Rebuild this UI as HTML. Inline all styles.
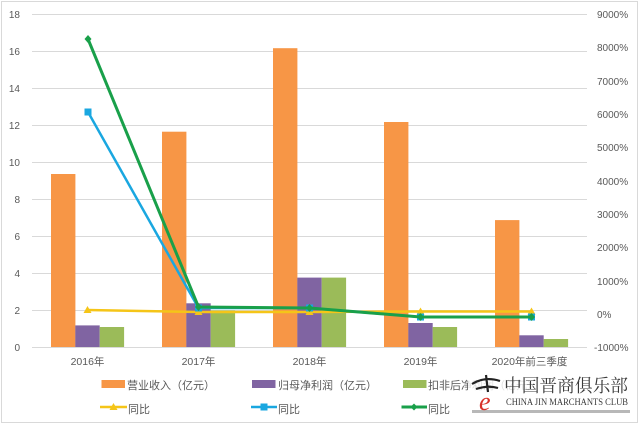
<!DOCTYPE html>
<html><head><meta charset="utf-8"><style>
html,body{margin:0;padding:0;background:#fff;}
svg{display:block;}
text{font-family:"Liberation Sans","Noto Sans CJK SC",sans-serif;fill:#595959;}
.ser{font-family:"Liberation Serif","Noto Serif CJK SC",serif;}
</style></head><body>
<svg width="640" height="425" viewBox="0 0 640 425" xmlns="http://www.w3.org/2000/svg">
<rect x="0" y="0" width="640" height="425" fill="#fff"/>
<rect x="1.5" y="1.5" width="636" height="421" fill="none" stroke="#d9d9d9" stroke-width="1"/>
<!-- gridlines -->
<g stroke="#d9d9d9" stroke-width="1">
<line x1="32" y1="14.5" x2="587" y2="14.5"/>
<line x1="32" y1="51.5" x2="587" y2="51.5"/>
<line x1="32" y1="88.5" x2="587" y2="88.5"/>
<line x1="32" y1="125.5" x2="587" y2="125.5"/>
<line x1="32" y1="162.5" x2="587" y2="162.5"/>
<line x1="32" y1="199.5" x2="587" y2="199.5"/>
<line x1="32" y1="236.5" x2="587" y2="236.5"/>
<line x1="32" y1="273.5" x2="587" y2="273.5"/>
<line x1="32" y1="310.5" x2="587" y2="310.5"/>
<line x1="32" y1="347.5" x2="587" y2="347.5"/>
</g>
<!-- left ticks -->
<g font-size="10" text-anchor="end">
<text x="20" y="18">18</text>
<text x="20" y="55">16</text>
<text x="20" y="92">14</text>
<text x="20" y="129">12</text>
<text x="20" y="166">10</text>
<text x="20" y="203">8</text>
<text x="20" y="240">6</text>
<text x="20" y="277">4</text>
<text x="20" y="314">2</text>
<text x="20" y="351">0</text>
</g>
<!-- right ticks -->
<g font-size="10">
<text x="597" y="18">9000%</text>
<text x="597" y="51">8000%</text>
<text x="597" y="85">7000%</text>
<text x="597" y="118">6000%</text>
<text x="597" y="151">5000%</text>
<text x="597" y="185">4000%</text>
<text x="597" y="218">3000%</text>
<text x="597" y="251">2000%</text>
<text x="597" y="285">1000%</text>
<text x="597" y="318">0%</text>
<text x="594" y="351">-1000%</text>
</g>
<!-- bars -->
<g fill="#F79646">
<rect x="51" y="174" width="24.4" height="173"/>
<rect x="162" y="131.7" width="24.4" height="215.3"/>
<rect x="273" y="48.2" width="24.4" height="298.8"/>
<rect x="384" y="122" width="24.4" height="225"/>
<rect x="495" y="220.1" width="24.4" height="126.9"/>
</g>
<g fill="#8064A2">
<rect x="75.3" y="325.4" width="24.4" height="21.6"/>
<rect x="186.3" y="303.3" width="24.4" height="43.7"/>
<rect x="297.3" y="277.6" width="24.4" height="69.4"/>
<rect x="408.3" y="323" width="24.4" height="24"/>
<rect x="519.3" y="335.3" width="24.4" height="11.7"/>
</g>
<g fill="#9BBB59">
<rect x="99.7" y="327" width="24.4" height="20"/>
<rect x="210.7" y="310.4" width="24.4" height="36.6"/>
<rect x="321.7" y="277.6" width="24.4" height="69.4"/>
<rect x="432.7" y="327" width="24.4" height="20"/>
<rect x="543.7" y="339" width="24.4" height="8"/>
</g>
<!-- x labels -->
<g font-size="10.5" text-anchor="middle">
<text x="87.5" y="365">2016年</text>
<text x="198.5" y="365">2017年</text>
<text x="309.5" y="365">2018年</text>
<text x="420.5" y="365">2019年</text>
<text x="529.5" y="365">2020年前三季度</text>
</g>
<!-- yellow line -->
<polyline points="87.5,310 198.5,312 309.5,312 420.5,311.5 531.5,311.5" fill="none" stroke="#F5C518" stroke-width="2.5"/>
<g fill="#F5C518">
<polygon points="87.5,306 83.5,313 91.5,313"/>
<polygon points="198.5,308 194.5,315 202.5,315"/>
<polygon points="309.5,308 305.5,315 313.5,315"/>
<polygon points="420.5,307.5 416.5,314.5 424.5,314.5"/>
<polygon points="531.5,307.5 527.5,314.5 535.5,314.5"/>
</g>
<!-- blue line -->
<polyline points="88,112 198.5,308 309.5,308 420.5,317 531.5,317" fill="none" stroke="#1AA7E0" stroke-width="2.5"/>
<g fill="#1AA7E0">
<rect x="84.5" y="108.5" width="7" height="7"/>
<rect x="195" y="304.5" width="7" height="7"/>
<rect x="306" y="304.5" width="7" height="7"/>
<rect x="417" y="313.5" width="7" height="7"/>
<rect x="528" y="313.5" width="7" height="7"/>
</g>
<!-- green line -->
<polyline points="88,39 198.5,307 309.5,308 420.5,317 531.5,317" fill="none" stroke="#19A04A" stroke-width="3"/>
<g fill="#19A04A">
<polygon points="88,35 91.5,39 88,43 84.5,39"/>
<polygon points="198.5,303 202,307 198.5,311 195,307"/>
<polygon points="309.5,304 313,308 309.5,312 306,308"/>
<polygon points="420.5,313 424,317 420.5,321 417,317"/>
<polygon points="531.5,313 535,317 531.5,321 528,317"/>
</g>
<!-- legend -->
<g font-size="11">
<rect x="101.5" y="380" width="23.5" height="8" fill="#F79646"/>
<text x="127" y="389">营业收入（亿元）</text>
<rect x="252" y="380" width="23.5" height="8" fill="#8064A2"/>
<text x="278" y="389">归母净利润（亿元）</text>
<rect x="403" y="380" width="23.5" height="8" fill="#9BBB59"/>
<text x="428" y="389">扣非后净利润（亿元）</text>
<line x1="100" y1="407" x2="127" y2="407" stroke="#F5C518" stroke-width="2.5"/>
<polygon points="113.5,403 109.5,410 117.5,410" fill="#F5C518"/>
<text x="128" y="413">同比</text>
<line x1="251" y1="407" x2="277" y2="407" stroke="#1AA7E0" stroke-width="2.5"/>
<rect x="260.5" y="403.5" width="7" height="7" fill="#1AA7E0"/>
<text x="278" y="413">同比</text>
<line x1="401.5" y1="407" x2="427" y2="407" stroke="#19A04A" stroke-width="3"/>
<polygon points="414,403.5 417.5,407 414,410.5 410.5,407" fill="#19A04A"/>
<text x="428" y="413">同比</text>
</g>
<!-- watermark -->
<rect x="468" y="373" width="164" height="37" fill="#fff" fill-opacity="0.8"/>
<rect x="472" y="410" width="158" height="3" fill="#9a9a9a" fill-opacity="0.7"/>
<path d="M472,384 Q485,376 500,381 M476,389 Q488,385 498,388 M486,375 L488,392" stroke="#222" stroke-width="2.2" fill="none"/>
<text x="479" y="410" font-size="26" font-style="italic" class="ser" style="fill:#d8322a">e</text>
<text x="504" y="392" font-size="18" class="ser" style="fill:#3a3a3a" textLength="124" lengthAdjust="spacingAndGlyphs">中国晋商俱乐部</text>
<text x="506" y="405" font-size="9" class="ser" style="fill:#3a3a3a" textLength="122" lengthAdjust="spacingAndGlyphs">CHINA JIN MARCHANTS CLUB</text>
</svg>
</body></html>
